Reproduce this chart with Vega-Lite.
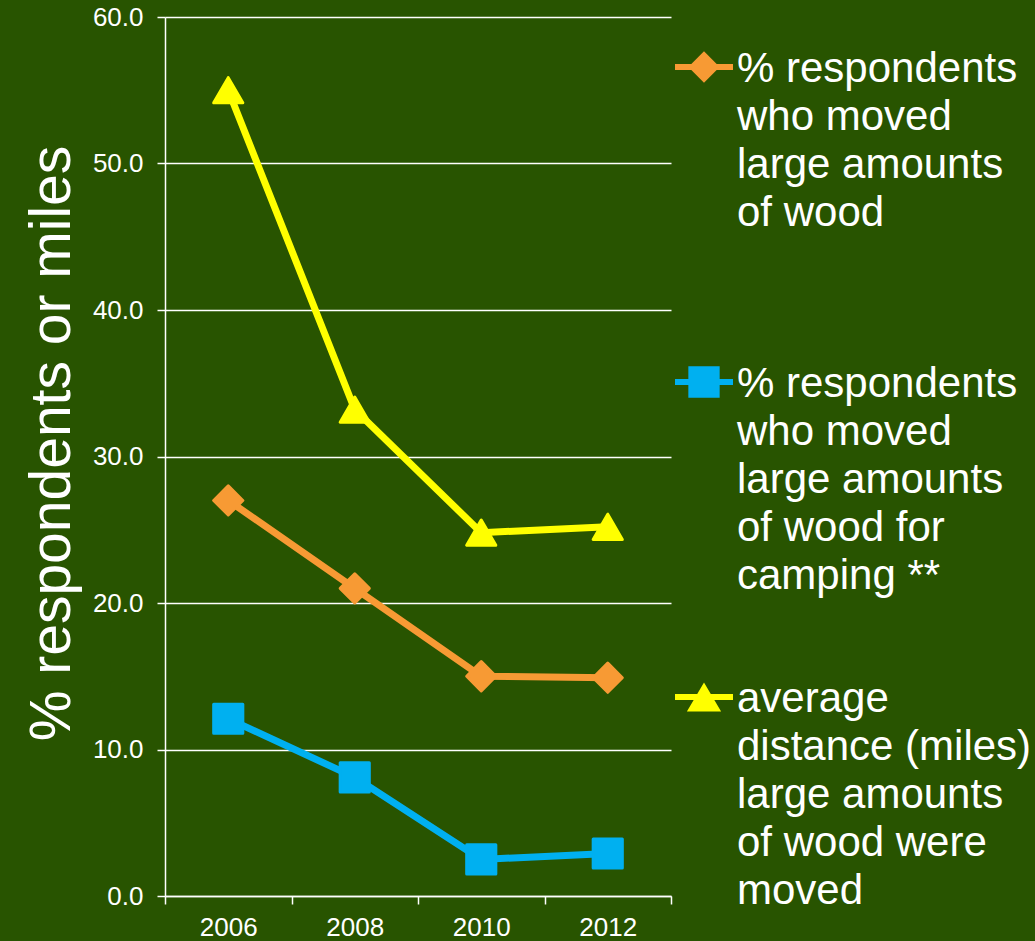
{
  "$schema": "https://vega.github.io/schema/vega-lite/v6.json",
  "width": 506,
  "height": 879,
  "autosize": {"type": "none"},
  "padding": {"left": 165, "top": 17, "right": 364, "bottom": 45},
  "background": "#285400",
  "config": {"view": {"stroke": null}, "font": "Liberation Sans"},
  "data": {
    "values": [
      {"year": "2006", "series": "% respondents|who moved|large amounts|of wood| ", "value": 27.0},
      {"year": "2008", "series": "% respondents|who moved|large amounts|of wood| ", "value": 21.0},
      {"year": "2010", "series": "% respondents|who moved|large amounts|of wood| ", "value": 15.0},
      {"year": "2012", "series": "% respondents|who moved|large amounts|of wood| ", "value": 14.9},
      {"year": "2006", "series": "% respondents|who moved|large amounts|of wood for|camping **", "value": 12.1},
      {"year": "2008", "series": "% respondents|who moved|large amounts|of wood for|camping **", "value": 8.1},
      {"year": "2010", "series": "% respondents|who moved|large amounts|of wood for|camping **", "value": 2.5},
      {"year": "2012", "series": "% respondents|who moved|large amounts|of wood for|camping **", "value": 2.9},
      {"year": "2006", "series": "average|distance (miles)|large amounts|of wood were|moved", "value": 55.0},
      {"year": "2008", "series": "average|distance (miles)|large amounts|of wood were|moved", "value": 33.2},
      {"year": "2010", "series": "average|distance (miles)|large amounts|of wood were|moved", "value": 24.8},
      {"year": "2012", "series": "average|distance (miles)|large amounts|of wood were|moved", "value": 25.2}
    ]
  },
  "encoding": {
    "x": {
      "field": "year", "type": "ordinal",
      "scale": {"paddingInner": 0, "paddingOuter": 0},
      "axis": {
        "title": null, "labelAngle": 0, "labelColor": "white", "labelFontSize": 26, "labelPadding": 10,
        "tickColor": "white", "tickSize": 8, "tickWidth": 1.5, "tickBand": "extent",
        "domainColor": "white", "domainWidth": 1.5, "grid": false
      }
    },
    "y": {
      "field": "value", "type": "quantitative",
      "scale": {"domain": [0, 60], "nice": false},
      "axis": {
        "title": "% respondents or miles", "titleFontSize": 57, "titleFontWeight": "normal", "titleColor": "white", "titlePadding": 11, "titleY": 426,
        "format": ".1f", "values": [0, 10, 20, 30, 40, 50, 60],
        "labelColor": "white", "labelFontSize": 26, "labelPadding": 14,
        "tickColor": "white", "tickSize": 8, "tickWidth": 1.5,
        "grid": true, "gridColor": "white", "gridWidth": 1.5,
        "domainColor": "white", "domainWidth": 1.5
      }
    },
    "color": {
      "field": "series", "type": "nominal",
      "scale": {
        "domain": ["% respondents|who moved|large amounts|of wood| ", "% respondents|who moved|large amounts|of wood for|camping **", "average|distance (miles)|large amounts|of wood were|moved"],
        "range": ["#F79A34", "#00B0F0", "#FFFF00"]
      },
      "legend": null
    }
  },
  "resolve": {"scale": {"shape": "independent"}, "legend": {"shape": "independent"}},
  "layer": [
    {
      "mark": {"type": "line", "strokeWidth": 7}
    },
    {
      "mark": {"type": "point", "filled": true, "size": 850, "opacity": 1, "strokeWidth": 3, "strokeJoin": "round"},
      "encoding": {
        "shape": {
          "field": "series", "type": "nominal",
          "scale": {
            "domain": ["% respondents|who moved|large amounts|of wood| ", "% respondents|who moved|large amounts|of wood for|camping **", "average|distance (miles)|large amounts|of wood were|moved"],
            "range": ["diamond", "square", "triangle-up"]
          },
          "legend": null
        },
        "stroke": {
          "field": "series", "type": "nominal",
          "scale": {
            "domain": ["% respondents|who moved|large amounts|of wood| ", "% respondents|who moved|large amounts|of wood for|camping **", "average|distance (miles)|large amounts|of wood were|moved"],
            "range": ["#F79A34", "#00B0F0", "#FFFF00"]
          },
          "legend": null
        }
      }
    },
    {
      "mark": {"type": "point", "filled": true, "size": 100, "opacity": 0},
      "encoding": {
        "shape": {
          "field": "series", "type": "nominal",
          "scale": {
            "domain": ["% respondents|who moved|large amounts|of wood| ", "% respondents|who moved|large amounts|of wood for|camping **", "average|distance (miles)|large amounts|of wood were|moved"],
            "range": [
              "M-1,-0.1L1,-0.1L1,0.1L-1,0.1Z M0,-0.54L0.54,0L0,0.54L-0.54,0Z",
              "M-1,-0.1L1,-0.1L1,0.1L-1,0.1Z M-0.54,-0.54L0.54,-0.54L0.54,0.54L-0.54,0.54Z",
              "M-1,-0.1L1,-0.1L1,0.1L-1,0.1Z M0,-0.5L0.59,0.5L-0.59,0.5Z"
            ]
          },
          "legend": {
            "title": null, "orient": "none", "legendX": 510, "legendY": 21, "padding": 0,
            "labelFontSize": 42, "labelColor": "white", "labelLimit": 0, "labelOffset": 4,
            "rowPadding": 71, "symbolSize": 3364, "symbolStrokeWidth": 0, "symbolOpacity": 1,
            "labelExpr": "split(datum.label, '|')", "labelBaseline": "top",
            "encoding": {
              "labels": {"lineHeight": {"value": 48}, "dy": {"value": -18}},
              "symbols": {
                "fill": {"value": {"expr": "scale('color', datum.value)"}},
                "size": {"value": 3364},
                "strokeWidth": {"value": 0},
                "opacity": {"value": 1}
              }
            }
          }
        }
      }
    }
  ]
}
